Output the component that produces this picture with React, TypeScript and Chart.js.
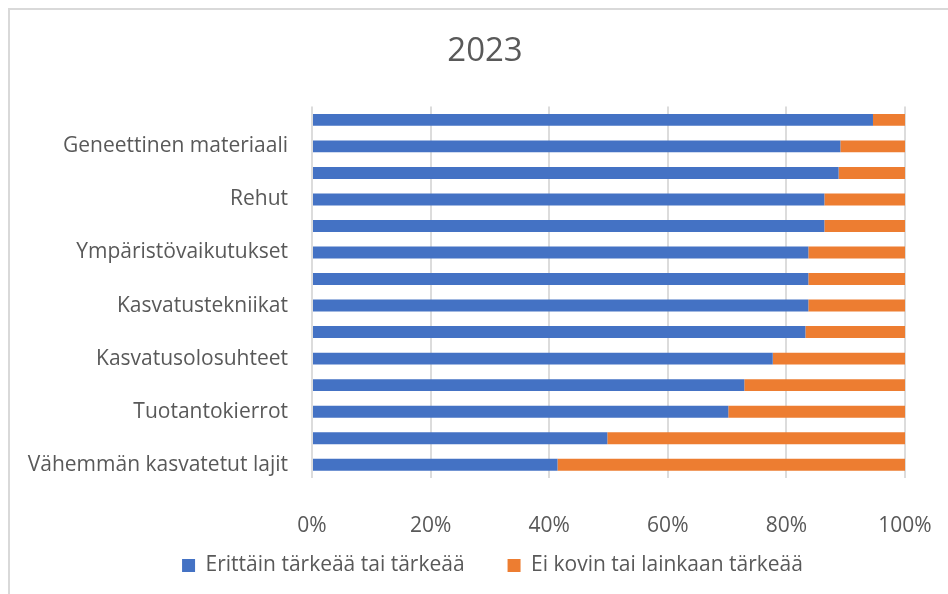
import React, { useEffect, useRef } from "react";
import { Chart, registerables } from "chart.js";

Chart.register(...registerables);

const categories: string[] = [
  "",
  "Geneettinen materiaali",
  "",
  "Rehut",
  "",
  "Ympäristövaikutukset",
  "",
  "Kasvatustekniikat",
  "",
  "Kasvatusolosuhteet",
  "",
  "Tuotantokierrot",
  "",
  "Vähemmän kasvatetut lajit",
];

const importantValues: number[] = [94.6, 89.1, 88.8, 86.4, 86.4, 83.7, 83.7, 83.7, 83.2, 77.7, 72.9, 70.2, 49.8, 41.4];
const notImportantValues: number[] = [5.4, 10.9, 11.2, 13.6, 13.6, 16.3, 16.3, 16.3, 16.8, 22.3, 27.1, 29.8, 50.2, 58.6];

const seriesNames: string[] = ["Erittäin tärkeää tai tärkeää", "Ei kovin tai lainkaan tärkeää"];
const xTickValues: number[] = [0, 20, 40, 60, 80, 100];
const titleText = "2023";

const FONT = "'Open Sans', 'Noto Sans', sans-serif";
const TEXT = "#595959";
const FS = 21;

const shiftPlugin = {
  id: "shiftBlocks",
  afterLayout(chart: any) {
    const t = chart.titleBlock;
    if (t) {
      t.left = 0;
      t.right = 970;
      t.width = 970;
    }
    const l = chart.legend;
    if (l) {
      l.left = 0;
      l.right = 985;
      l.width = 985;
    }
    const x = chart.scales.x;
    if (x) {
      x.bottom = 560;
      x.height = x.bottom - x.top;
    }
  },
};

export default function App() {
  const ref = useRef<HTMLCanvasElement | null>(null);

  useEffect(() => {
    if (!ref.current) return;
    const chart = new Chart(ref.current, {
      type: "bar",
      data: {
        labels: categories,
        datasets: [
          {
            label: seriesNames[0],
            data: importantValues,
            backgroundColor: "#4472C4",
            barPercentage: 0.45,
            categoryPercentage: 1,
          },
          {
            label: seriesNames[1],
            data: notImportantValues,
            backgroundColor: "#ED7D31",
            barPercentage: 0.45,
            categoryPercentage: 1,
          },
        ],
      },
      plugins: [shiftPlugin],
      options: {
        indexAxis: "y",
        responsive: false,
        animation: false,
        layout: { padding: { left: 0, right: 70, top: 0, bottom: 8 } },
        plugins: {
          title: {
            display: true,
            text: titleText,
            color: TEXT,
            font: { family: FONT, size: 33, weight: "normal" },
            padding: { top: 32, bottom: 35 },
          },
          legend: {
            position: "bottom",
            labels: {
              color: TEXT,
              font: { family: FONT, size: FS },
              boxWidth: 13,
              boxHeight: 13,
              padding: 43,
            },
          },
          tooltip: { enabled: false },
        },
        scales: {
          x: {
            stacked: true,
            min: 0,
            max: 100,
            afterBuildTicks: (scale: any) => {
              scale.ticks = xTickValues.map((v) => ({ value: v }));
            },
            afterFit: (scale: any) => {
              scale.height = 34;
            },
            ticks: {
              color: TEXT,
              font: { family: FONT, size: FS },
              padding: 35,
              callback: (v: any) => `${v}%`,
            },
            grid: { color: "#dcdcdc", lineWidth: 2, drawTicks: false },
            border: { display: false },
          },
          y: {
            stacked: true,
            afterFit: (scale: any) => {
              scale.width = 312;
            },
            ticks: {
              color: TEXT,
              font: { family: FONT, size: FS },
              padding: 24,
              autoSkip: false,
              callback: (_v: any, i: number) => (i % 2 === 1 ? categories[i] : ""),
            },
            grid: { display: false, drawTicks: false },
            border: { display: false },
          },
        },
      },
    });
    return () => chart.destroy();
  }, []);

  return (
    <div>
      <div
        style={{
          position: "fixed",
          left: 8,
          top: 8,
          width: 1200,
          height: 1200,
          borderLeft: "2px solid #d9d9d9",
          borderTop: "2px solid #d9d9d9",
          pointerEvents: "none",
        }}
      />
      <div style={{ position: "fixed", left: 0, top: 0, width: 948, height: 594, overflow: "hidden" }}>
        <canvas ref={ref} width={975} height={594} style={{ display: "block" }} />
      </div>
    </div>
  );
}
